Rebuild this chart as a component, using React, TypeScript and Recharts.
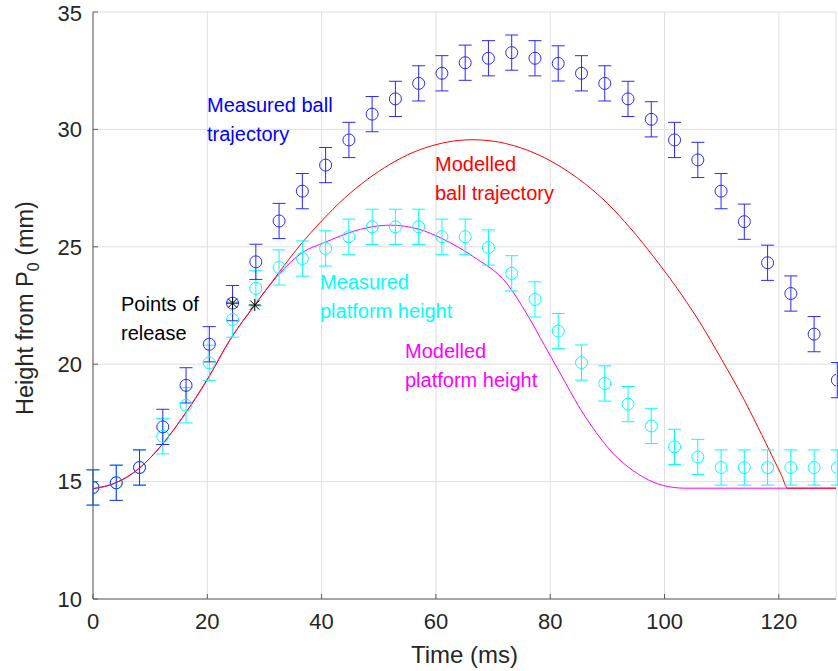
import React from "react";
import {
  ComposedChart,
  Line,
  Scatter,
  ErrorBar,
  XAxis,
  YAxis,
  CartesianGrid,
} from "recharts";

// sample times of the measured frames (ms)
const frameTimes = [
  0, 4.07, 8.14, 12.21, 16.28, 20.35, 24.42, 28.49, 32.56, 36.63, 40.7, 44.77,
  48.84, 52.91, 56.98, 61.05, 65.12, 69.19, 73.26, 77.33, 81.4, 85.47, 89.54,
  93.61, 97.68, 101.75, 105.82, 109.89, 113.96, 118.03, 122.1, 126.17, 130.24,
];

const ballHeight = [
  14.75, 14.95, 15.6, 17.33, 19.1, 20.85, 22.6, 24.36, 26.1, 27.37, 28.48,
  29.55, 30.65, 31.3, 31.96, 32.39, 32.84, 33.03, 33.27, 33.03, 32.81, 32.39,
  31.96, 31.3, 30.43, 29.55, 28.7, 27.37, 26.07, 24.32, 23.01, 21.28, 19.32,
];
const ballErr = [
  0.75, 0.75, 0.75, 0.75, 0.75, 0.75, 0.75, 0.75, 0.75, 0.75, 0.75, 0.75,
  0.75, 0.75, 0.75, 0.75, 0.75, 0.75, 0.75, 0.75, 0.75, 0.75, 0.75, 0.75,
  0.75, 0.75, 0.75, 0.75, 0.75, 0.75, 0.75, 0.75, 0.75,
];

const platformHeight = [
  14.75, 14.95, 15.6, 16.93, 18.25, 20.06, 21.9, 23.23, 24.12, 24.5, 24.93,
  25.43, 25.85, 25.85, 25.85, 25.43, 25.43, 24.97, 23.87, 22.76, 21.41, 20.07,
  19.18, 18.3, 17.37, 16.48, 16.05, 15.6, 15.6, 15.6, 15.6, 15.6, 15.6,
];
const platformErr = [
  0.75, 0.75, 0.75, 0.75, 0.75, 0.75, 0.75, 0.75, 0.75, 0.75, 0.75, 0.75,
  0.75, 0.75, 0.75, 0.75, 0.75, 0.75, 0.75, 0.75, 0.75, 0.75, 0.75, 0.75,
  0.75, 0.75, 0.75, 0.75, 0.75, 0.75, 0.75, 0.75, 0.75,
];

// modelled curves
const ballModelT = [
  0, 4, 8, 12, 16, 20, 24, 28.3, 32, 36, 40, 44, 48, 52, 56, 60, 64, 66.5, 70,
  74, 78, 82, 86, 90, 94, 98, 102, 106, 110, 114, 117, 119, 120.5, 121.5, 130,
];
const ballModelY = [
  14.7, 14.95, 15.55, 16.55, 17.85, 19.35, 21.05, 22.52, 23.73, 25.0, 26.1,
  27.07, 27.87, 28.52, 29.02, 29.35, 29.53, 29.56, 29.5, 29.28, 28.91, 28.38,
  27.7, 26.85, 25.8, 24.6, 23.3, 21.85, 20.2, 18.45, 17.0, 16.0, 15.25, 14.72,
  14.72,
];

const platModelT = [
  0, 4, 8, 12, 16, 20, 24, 28.3, 32.6, 36.6, 40.7, 44.8, 48.8, 52, 57, 61,
  66.6, 72.4, 76, 79, 82, 85, 88, 91, 94.6, 98, 101.6, 103.5, 130,
];
const platModelY = [
  14.7, 14.95, 15.55, 16.55, 17.85, 19.35, 21.05, 22.52, 23.85, 24.75, 25.2,
  25.6, 25.85, 25.92, 25.75, 25.36, 24.57, 23.44, 22.1, 20.8, 19.5, 18.2, 17.1,
  16.2, 15.45, 14.98, 14.75, 14.72, 14.72,
];

const releaseT = [24.42, 28.3];
const releaseY = [22.6, 22.52];

const xTicks = [0, 20, 40, 60, 80, 100, 120];
const yTicks = [10, 15, 20, 25, 30, 35];

const ballData = frameTimes.map((t, i) => ({ t, y: ballHeight[i], err: ballErr[i] }));
const platData = frameTimes.map((t, i) => ({ t, y: platformHeight[i], err: platformErr[i] }));
const ballModel = ballModelT.map((t, i) => ({ t, y: ballModelY[i] }));
const platModel = platModelT.map((t, i) => ({ t, y: platModelY[i] }));
const releaseData = releaseT.map((t, i) => ({ t, y: releaseY[i] }));

if (typeof document !== "undefined") document.body.style.margin = "0";

const FONT = "'Liberation Sans', Arial, Helvetica, sans-serif";
const AXIS = "#5c5c5c";
const TXT = "#262626";

const ring = (color: string) => (p: any) =>
  <circle cx={p.cx} cy={p.cy} r={6} fill="none" stroke={color} strokeWidth={1} />;

const Star = (p: any) => {
  const { cx, cy } = p;
  const d = 4.6;
  return (
    <g stroke="#000" strokeWidth={1}>
      <line x1={cx - 6} y1={cy} x2={cx + 6} y2={cy} />
      <line x1={cx} y1={cy - 6} x2={cx} y2={cy + 6} />
      <line x1={cx - d} y1={cy - d} x2={cx + d} y2={cy + d} />
      <line x1={cx - d} y1={cy + d} x2={cx + d} y2={cy - d} />
    </g>
  );
};

const YTitle = () => (
  <text
    transform="translate(33, 308) rotate(-90)"
    textAnchor="middle"
    fill={TXT}
    fontSize={23.5}
    fontFamily={FONT}
  >
    Height from P
    <tspan dy={6} fontSize={16}>0</tspan>
    <tspan dy={-6}> (mm)</tspan>
  </text>
);

const note = (left: number, top: number, color: string, lines: string[]) => (
  <div
    style={{
      position: "absolute",
      left,
      top,
      color,
      fontFamily: FONT,
      fontSize: 20,
      lineHeight: "29px",
      whiteSpace: "nowrap",
      pointerEvents: "none",
    }}
  >
    {lines.map((l) => (
      <div key={l}>{l}</div>
    ))}
  </div>
);

export default function App() {
  return (
    <div style={{ position: "relative", width: 838, height: 671, background: "#fff" }}>
      <ComposedChart
        width={838}
        height={671}
        margin={{ top: 12, right: 2, bottom: 0, left: 0 }}
      >
        <CartesianGrid stroke="#dfdfdf" />
        <XAxis
          dataKey="t"
          type="number"
          domain={[0, 130]}
          ticks={xTicks}
          allowDataOverflow
          height={72}
          tickSize={-5}
          tickMargin={19}
          stroke={AXIS}
          tick={{ fill: TXT, fontSize: 22, fontFamily: FONT }}
          label={{
            value: "Time (ms)",
            position: "insideBottom",
            offset: 8,
            fill: TXT,
            fontSize: 24,
            fontFamily: FONT,
          }}
        />
        <XAxis
          xAxisId="top"
          orientation="top"
          type="number"
          domain={[0, 130]}
          ticks={xTicks}
          height={0}
          tickSize={-5}
          tick={false}
          stroke={AXIS}
        />
        <YAxis
          type="number"
          domain={[10, 35]}
          ticks={yTicks}
          allowDataOverflow
          width={93}
          tickSize={-5}
          tickMargin={16}
          stroke={AXIS}
          tick={{ fill: TXT, fontSize: 22, fontFamily: FONT }}
          label={{ content: YTitle }}
        />
        <YAxis
          yAxisId="right"
          orientation="right"
          type="number"
          domain={[10, 35]}
          ticks={yTicks}
          width={0}
          tickSize={-5}
          tick={false}
          stroke={AXIS}
        />
        <Line
          data={platModel}
          dataKey="y"
          type="monotone"
          stroke="#ff00ff"
          strokeWidth={1}
          dot={false}
          isAnimationActive={false}
        />
        <Line
          data={ballModel}
          dataKey="y"
          type="monotone"
          stroke="#ff0000"
          strokeWidth={1}
          dot={false}
          isAnimationActive={false}
        />
        <Scatter data={platData} dataKey="y" shape={ring("#00ffff")} isAnimationActive={false}>
          <ErrorBar dataKey="err" direction="y" width={6.5} stroke="#00ffff" strokeWidth={1} />
        </Scatter>
        <Scatter data={ballData} dataKey="y" shape={ring("#2a2aff")} isAnimationActive={false}>
          <ErrorBar dataKey="err" direction="y" width={6.5} stroke="#2a2aff" strokeWidth={1} />
        </Scatter>
        <Scatter data={releaseData} dataKey="y" shape={Star} isAnimationActive={false} />
      </ComposedChart>
      {note(207, 91, "#0000ff", ["Measured ball", "trajectory"])}
      {note(435, 150, "#ff0000", ["Modelled", "ball trajectory"])}
      {note(320, 268, "#00ffff", ["Measured", "platform height"])}
      {note(405, 337, "#ff00ff", ["Modelled", "platform height"])}
      {note(121, 290, "#000000", ["Points of", "release"])}
    </div>
  );
}
